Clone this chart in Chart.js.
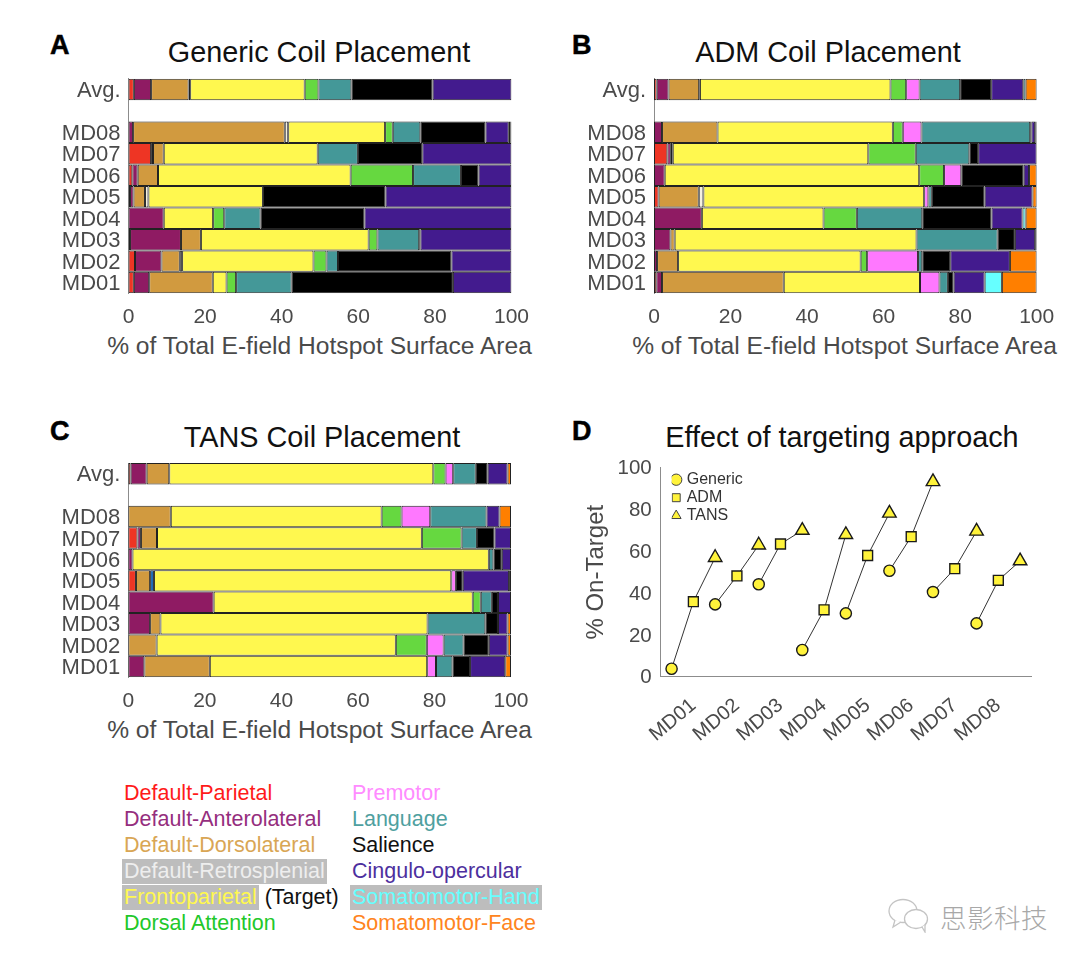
<!DOCTYPE html>
<html lang="en">
<head>
    <meta charset="UTF-8">
    <title>E-field hotspot by coil placement</title>
    <script src="https://cdn.jsdelivr.net/npm/chart.js"></script>
    <style>
        html, body { margin: 0; padding: 0; background: #fff; overflow: hidden; }
        body { width: 1080px; height: 963px; position: relative; font-family: "Liberation Sans", Arial, sans-serif; }
        canvas { position: absolute; }
        .letter { position: absolute; font-size: 27px; font-weight: bold; color: #000; line-height: 28px; -webkit-text-stroke: 0.5px #000; }
        .title { position: absolute; font-size: 28.8px; color: #111; line-height: 34px; white-space: nowrap; transform: translateX(-50%); }
        .xlab { position: absolute; font-size: 24.6px; color: #4a4a4a; line-height: 28px; white-space: nowrap; transform: translateX(-50%); }
        .net { position: absolute; font-size: 21.5px; line-height: 25px; white-space: nowrap; }
        .grey { background: #bdbdbd; display: inline-block; padding: 0 2px; margin-left: -2px; }
        #mark { position: absolute; left: 940px; top: 897px; font: 300 26.5px "Noto Sans CJK SC"; color: #a8a8a8; letter-spacing: 0.5px; white-space: nowrap; }
    </style>
</head>
<body>
    <div class="letter" style="left:50px;top:31px">A</div>
    <div class="letter" style="left:572px;top:31px">B</div>
    <div class="letter" style="left:50px;top:417px">C</div>
    <div class="letter" style="left:572px;top:417px">D</div>

    <div class="title" style="left:319px;top:35px">Generic Coil Placement</div>
    <div class="title" style="left:828px;top:35px">ADM Coil Placement</div>
    <div class="title" style="left:322px;top:420px">TANS Coil Placement</div>
    <div class="title" style="left:842px;top:420px">Effect of targeting approach</div>

    <canvas id="chartA" width="500" height="262" style="left:50px;top:70px"></canvas>
    <canvas id="chartB" width="500" height="262" style="left:575px;top:70px"></canvas>
    <canvas id="chartC" width="500" height="262" style="left:50px;top:454px"></canvas>
    <canvas id="chartD" width="500" height="300" style="left:570px;top:455px"></canvas>

    <div class="xlab" style="left:319.5px;top:332px">% of Total E-field Hotspot Surface Area</div>
    <div class="xlab" style="left:844.5px;top:332px">% of Total E-field Hotspot Surface Area</div>
    <div class="xlab" style="left:319.5px;top:716px">% of Total E-field Hotspot Surface Area</div>

    <div id="legendText"></div>

    <svg style="position:absolute;left:886px;top:897px" width="48" height="36" viewBox="0 0 48 36" fill="#fff" stroke="#c4c4c4" stroke-width="1.3">
        <ellipse cx="17" cy="14" rx="14" ry="11.5"/>
        <path d="M9 23 L7 30 L15 25"/>
        <ellipse cx="30" cy="22" rx="11.5" ry="9.5"/>
        <path d="M36 30 L39 35 L39 28"/>
    </svg>
    <div id="mark">思影科技</div>

    <script>
        const networks = ['Default-Parietal', 'Default-Anterolateral', 'Default-Dorsolateral', 'Default-Retrosplenial',
            'Unlisted-1', 'Frontoparietal', 'Dorsal Attention', 'Premotor', 'Language', 'Salience',
            'Cingulo-opercular', 'Unlisted-2', 'Somatomotor-Hand', 'Somatomotor-Face'];
        const barColors = ['#ee3524', '#8f1b63', '#d19a3f', '#f5f0e0', '#1060b0', '#fff84f', '#66d840',
            '#ff78ff', '#449898', '#000000', '#431b8e', '#1060b0', '#66ffff', '#ff7f00'];
        const rowLabels = ['Avg.', '', 'MD08', 'MD07', 'MD06', 'MD05', 'MD04', 'MD03', 'MD02', 'MD01'];

        // one row per label, columns in the order of networks
        const genericRows = [
            [1.4, 4.5, 9.8, 0.4, 0, 29.9, 3.6, 0, 8.6, 21.2, 20.6, 0, 0, 0],
            null,
            [0, 1.2, 39.6, 0.9, 0, 25.3, 2.0, 0, 7.2, 17.0, 6.1, 0.5, 0, 0.2],
            [5.9, 0.5, 2.8, 0, 0, 40.2, 0, 0, 10.5, 16.8, 23.3, 0, 0, 0],
            [1.0, 1.4, 5.3, 0, 0, 50.3, 16.3, 0, 12.5, 4.6, 8.6, 0, 0, 0],
            [0.4, 0.9, 3.0, 0.9, 0, 29.9, 0, 0, 0, 32.0, 32.9, 0, 0, 0],
            [0, 9.2, 0, 0, 0, 12.9, 2.9, 0, 9.5, 27.1, 38.4, 0, 0, 0],
            [0.4, 13.3, 5.2, 0, 0, 43.8, 2.3, 0, 10.9, 0.3, 23.8, 0, 0, 0],
            [1.7, 6.9, 4.8, 0.6, 0, 34.3, 3.4, 0, 3.0, 29.6, 15.7, 0, 0, 0],
            [1.4, 4.0, 16.6, 0, 0, 3.6, 2.5, 0, 14.5, 42.1, 15.3, 0, 0, 0]
        ];
        const admRows = [
            [0.7, 3.1, 8.0, 0.2, 0, 49.8, 4.1, 3.5, 10.6, 8.1, 8.4, 0, 0.6, 2.9],
            null,
            [0, 2.1, 14.5, 0, 0, 45.8, 2.6, 4.9, 28.4, 0.3, 1.0, 0, 0.2, 0.2],
            [3.5, 0.9, 0.5, 0, 0, 51.1, 12.4, 0, 14.0, 2.3, 15.3, 0, 0, 0],
            [0, 2.8, 0, 0, 0, 66.5, 6.5, 4.5, 0, 16.3, 1.4, 0, 0, 2.0],
            [1.2, 0, 10.5, 1.2, 0, 57.7, 0, 1.1, 0.9, 13.8, 12.5, 0, 0, 1.1],
            [0, 12.5, 0, 0, 0, 31.8, 8.7, 0, 17.1, 18.1, 8.1, 0, 0.8, 2.9],
            [0, 4.3, 1.1, 0, 0, 63.2, 0, 0, 21.2, 4.5, 5.3, 0, 0, 0.4],
            [0, 0.8, 5.5, 0, 0, 47.7, 1.7, 13.3, 1.1, 7.3, 15.6, 0, 0, 7.0],
            [0.6, 1.5, 31.8, 0, 0, 35.6, 0, 5.1, 2.2, 1.5, 8.1, 0, 4.5, 9.1]
        ];
        const tansRows = [
            [0.6, 4.2, 5.9, 0, 0, 69.0, 3.2, 2.0, 5.9, 3.1, 5.2, 0, 0, 0.9],
            null,
            [0, 0, 11.1, 0, 0, 55.1, 5.2, 7.5, 14.7, 0, 3.4, 0, 0, 3.0],
            [2.4, 0.9, 4.2, 0, 0, 69.2, 10.4, 0, 4.0, 4.6, 4.3, 0, 0, 0],
            [0, 1.1, 0, 0, 0, 93.1, 0, 0, 1.2, 2.2, 2.4, 0, 0, 0],
            [2.0, 0, 3.7, 0, 1.0, 77.7, 0, 1.2, 0, 1.8, 12.1, 0, 0, 0.5],
            [0, 22.3, 0, 0, 0, 67.7, 2.1, 0, 2.9, 1.6, 3.4, 0, 0, 0],
            [0, 5.7, 2.7, 0, 0, 69.8, 0, 0, 15.1, 3.3, 2.5, 0, 0, 0.9],
            [0, 0, 7.4, 0, 0, 62.5, 8.1, 4.4, 5.2, 6.6, 4.9, 0, 0, 0.9],
            [0, 4.2, 17.1, 0, 0, 56.8, 0, 2.3, 4.3, 4.6, 9.2, 0, 0, 1.5]
        ];

        const subjects = ['MD01', 'MD02', 'MD03', 'MD04', 'MD05', 'MD06', 'MD07', 'MD08'];
        const genericOnTarget = [3.8, 34.6, 44.2, 12.8, 30.3, 50.7, 40.5, 25.5];
        const admOnTarget = [35.9, 48.2, 63.5, 32.0, 58.0, 67.0, 51.7, 46.1];
        const tansOnTarget = [57.0, 63.0, 70.0, 68.0, 78.2, 93.3, 69.6, 55.4];
        const approaches = ['Generic', 'ADM', 'TANS'];
        const markers = ['circle', 'rect', 'triangle'];

        const legendLeft = [
            ['Default-Parietal', '#ff1a1a'], ['Default-Anterolateral', '#952e7e'], ['Default-Dorsolateral', '#d9a655'],
            ['Default-Retrosplenial', '#eeeeee', true], ['Frontoparietal', '#fff84f', true], ['Dorsal Attention', '#22c82a']
        ];
        const legendRight = [
            ['Premotor', '#ff8cff'], ['Language', '#4fa0a0'], ['Salience', '#111111'],
            ['Cingulo-opercular', '#4d2f9e'], ['Somatomotor-Hand', '#66ffff', true], ['Somatomotor-Face', '#ff8420']
        ];

        const tickColor = '#4a4a4a';
        const spineColor = '#8c8c8c';

        // afterFit helper: pin the axis size and drop the label margins so the plot box lands where asked
        function pinAxis(scale, size) {
            if (scale.isHorizontal()) scale.height = size; else scale.width = size;
            scale.paddingTop = scale.paddingBottom = scale.paddingLeft = scale.paddingRight = 0;
        }

        function barPanel(id, rows, plotLeft, plotRight, plotTop, plotBottom) {
            const canvas = document.getElementById(id);
            new Chart(canvas, {
                type: 'bar',
                data: {
                    labels: rowLabels,
                    datasets: networks.map((name, j) => ({
                        label: name,
                        data: rows.map(r => (r && r[j]) ? r[j] : null),
                        backgroundColor: barColors[j],
                        borderColor: '#222222',
                        borderWidth: 1,
                        borderSkipped: false,
                        inflateAmount: 0,
                        barPercentage: 1,
                        categoryPercentage: 1
                    }))
                },
                options: {
                    indexAxis: 'y',
                    responsive: false,
                    animation: false,
                    layout: { padding: { left: 0, top: plotTop, right: canvas.width - plotRight, bottom: 0 } },
                    plugins: { legend: { display: false }, tooltip: { enabled: false } },
                    scales: {
                        x: {
                            stacked: true, min: 0, max: 100,
                            grid: { display: false, drawTicks: false },
                            border: { display: false },
                            ticks: { stepSize: 20, color: tickColor, padding: 11, font: { family: 'Liberation Sans', size: 21 }, maxRotation: 0 },
                            afterFit: s => pinAxis(s, canvas.height - plotBottom)
                        },
                        y: {
                            stacked: true,
                            grid: { display: false, drawTicks: false },
                            border: { display: true, color: spineColor, width: 1 },
                            ticks: { color: tickColor, padding: 8, labelOffset: 1.5, autoSkip: false, font: { family: 'Liberation Sans', size: 22 } },
                            afterFit: s => pinAxis(s, plotLeft)
                        }
                    }
                }
            });
        }

        // plot box in canvas pixels: left, right, top, bottom
        barPanel('chartA', genericRows, 78.5, 461.5, 8.7, 223.3);
        barPanel('chartB', admRows, 79, 461.7, 8.7, 223.3);
        barPanel('chartC', tansRows, 78.3, 461, 9, 223.3);

        // 17 slots along the x axis, neighbouring subjects share a slot, MD labels sit on the ADM slot
        const slotLabels = [''];
        subjects.forEach(s => slotLabels.push(s, ''));

        const subjectSets = subjects.map((name, i) => {
            const data = new Array(slotLabels.length).fill(null);
            data[2 * i] = genericOnTarget[i];
            data[2 * i + 1] = admOnTarget[i];
            data[2 * i + 2] = tansOnTarget[i];
            return {
                label: name, data: data,
                borderColor: '#333333', borderWidth: 1,
                backgroundColor: '#fff33b',
                pointBackgroundColor: '#fff33b', pointBorderColor: '#1a1a1a', pointBorderWidth: 1.4,
                pointStyle: ctx => markers[ctx.dataIndex - 2 * i],
                pointRadius: ctx => [5.6, 7, 7.8][ctx.dataIndex - 2 * i]
            };
        });
        const keySets = approaches.map((name, k) => ({
            label: name, data: [],
            backgroundColor: '#fff33b', borderColor: '#333333',
            pointStyle: markers[k], pointBackgroundColor: '#fff33b', pointBorderColor: '#444444', pointBorderWidth: 1
        }));

        const placeKey = {
            id: 'placeKey',
            afterLayout(chart) {
                chart.legend.left = chart.chartArea.left + 11;
                chart.legend.top = chart.chartArea.top + 2;
            }
        };

        const canvasD = document.getElementById('chartD');
        new Chart(canvasD, {
            type: 'line',
            data: { labels: slotLabels, datasets: subjectSets.concat(keySets) },
            plugins: [placeKey],
            options: {
                responsive: false,
                animation: false,
                layout: { padding: { left: 12, top: 12.7, right: canvasD.width - 461, bottom: 0 } },
                plugins: {
                    tooltip: { enabled: false },
                    legend: {
                        position: 'chartArea', align: 'start',
                        labels: {
                            usePointStyle: true, boxWidth: 5, boxHeight: 8, padding: 2, color: '#333333',
                            font: { family: 'Liberation Sans', size: 16 },
                            filter: item => approaches.includes(item.text)
                        }
                    }
                },
                scales: {
                    x: {
                        offset: true,
                        grid: { display: false, drawTicks: false },
                        border: { display: true, color: spineColor, width: 1 },
                        ticks: { autoSkip: false, minRotation: 40, maxRotation: 40, color: tickColor, padding: 17, font: { family: 'Liberation Sans', size: 20 } },
                        afterFit: s => pinAxis(s, canvasD.height - 221.7)
                    },
                    y: {
                        min: 0, max: 100,
                        grid: { display: false, drawTicks: false },
                        border: { display: true, color: spineColor, width: 1 },
                        ticks: { stepSize: 20, color: tickColor, padding: 9, labelOffset: 1, font: { family: 'Liberation Sans', size: 20.5 } },
                        title: { display: true, text: '% On-Target', color: tickColor, font: { family: 'Liberation Sans', size: 24 }, padding: { top: 0, bottom: 0 } },
                        afterFit: s => pinAxis(s, 78.7)
                    }
                }
            }
        });

        // network colour key under panel C
        const legendBox = document.getElementById('legendText');
        function addKeyColumn(items, x) {
            items.forEach((it, i) => {
                const el = document.createElement('div');
                el.className = 'net';
                el.style.left = x + 'px';
                el.style.top = (781 + i * 26) + 'px';
                const span = document.createElement('span');
                span.textContent = it[0];
                span.style.color = it[1];
                if (it[2]) span.className = 'grey';
                el.appendChild(span);
                if (it[0] === 'Frontoparietal') {
                    el.appendChild(document.createTextNode(' (Target)'));
                    el.style.color = '#111';
                }
                legendBox.appendChild(el);
            });
        }
        addKeyColumn(legendLeft, 124);
        addKeyColumn(legendRight, 352);
    </script>
</body>
</html>
